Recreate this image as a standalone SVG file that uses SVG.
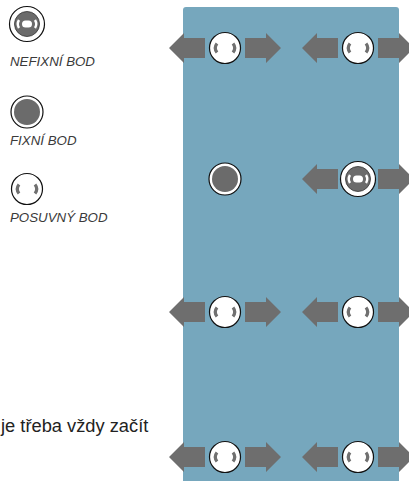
<svg xmlns="http://www.w3.org/2000/svg" width="409" height="481" viewBox="0 0 409 481">
<style>
.legend{font-family:"Liberation Sans",Arial,sans-serif;font-style:italic;font-size:13.3px;fill:#3a3a3a}
.note{font-family:"Liberation Sans",Arial,sans-serif;font-size:18.3px;fill:#222}
.arrow{fill:#6e6e6e}
.ring{fill:#fff;stroke:#111;stroke-width:1.2}
.mark{fill:none;stroke:#707070;stroke-width:3.2;stroke-linecap:butt}
.wmark{fill:none;stroke:#fff;stroke-width:2.4}
.core{fill:#6b6b6b}
</style>
<defs>
<path id="arr" d="M20,-10 H41 V-15 L56,0 L41,15 V10 H20 Z"/>
<g id="slide">
<circle class="ring" r="15.5"/>
<path class="mark" d="M-8,-4.5 Q-11.5,0 -8,4.5"/>
<path class="mark" d="M8,-4.5 Q11.5,0 8,4.5"/>
</g>
<g id="fixed">
<circle class="ring" r="16"/>
<circle class="core" r="13"/>
</g>
<g id="nonfixed">
<circle class="ring" r="17.5"/>
<circle class="core" r="12.5" stroke="#333" stroke-width="0.8"/>
<rect x="-5" y="-3.5" width="10" height="7" rx="3.5" fill="#fff"/>
<path class="wmark" d="M-8,-4 Q-10.5,0 -8,4"/>
<path class="wmark" d="M8,-4 Q10.5,0 8,4"/>
</g>
</defs>
<rect id="panel" x="183" y="7" width="216" height="480" rx="3" fill="#76a7bd"/>
<g id="legend">
<g id="legend-nonfixed"><use href="#nonfixed" x="27" y="24"/><text class="legend" x="10" y="66">NEFIXNÍ BOD</text></g>
<g id="legend-fixed"><use href="#fixed" x="27" y="112"/><text class="legend" x="10" y="145">FIXNÍ BOD</text></g>
<g id="legend-slide"><use href="#slide" x="27" y="189"/><text class="legend" x="10" y="222">POSUVNÝ BOD</text></g>
</g>
<text class="note" x="1" y="432">je třeba vždy začít</text>
<g id="connectors">
<use href="#arr" class="arrow" transform="translate(225,48) scale(-1,1)"/>
<use href="#arr" class="arrow" transform="translate(225,48)"/>
<use href="#arr" class="arrow" transform="translate(358,48) scale(-1,1)"/>
<use href="#arr" class="arrow" transform="translate(358,48)"/>
<use href="#arr" class="arrow" transform="translate(358,179) scale(-1,1)"/>
<use href="#arr" class="arrow" transform="translate(358,179)"/>
<use href="#arr" class="arrow" transform="translate(225,312) scale(-1,1)"/>
<use href="#arr" class="arrow" transform="translate(225,312)"/>
<use href="#arr" class="arrow" transform="translate(358,312) scale(-1,1)"/>
<use href="#arr" class="arrow" transform="translate(358,312)"/>
<use href="#arr" class="arrow" transform="translate(225,457) scale(-1,1)"/>
<use href="#arr" class="arrow" transform="translate(225,457)"/>
<use href="#arr" class="arrow" transform="translate(358,457) scale(-1,1)"/>
<use href="#arr" class="arrow" transform="translate(358,457)"/>
</g>
<g id="n1"><use href="#slide" x="225" y="48"/></g>
<g id="n2"><use href="#slide" x="358" y="48"/></g>
<g id="n3"><use href="#fixed" x="225" y="179"/></g>
<g id="n4"><use href="#nonfixed" x="358" y="179"/></g>
<g id="n5"><use href="#slide" x="225" y="312"/></g>
<g id="n6"><use href="#slide" x="358" y="312"/></g>
<g id="n7"><use href="#slide" x="225" y="457"/></g>
<g id="n8"><use href="#slide" x="358" y="457"/></g>
</svg>
